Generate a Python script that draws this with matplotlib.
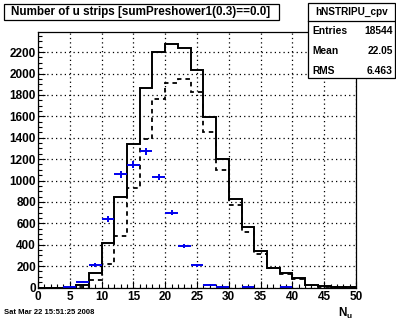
import numpy as np
import matplotlib
matplotlib.use("Agg")
import matplotlib.pyplot as plt
from matplotlib.patches import Rectangle
from matplotlib.ticker import MultipleLocator

plt.rcParams['font.family'] = ['Liberation Sans', 'DejaVu Sans']
plt.rcParams['font.weight'] = 'bold'

# number of u strips, 2-strip bins from 0 to 50
edges = np.arange(0, 52, 2)
n_all = [0, 0, 0, 25, 140, 420, 842, 1343, 1866, 2203, 2279, 2235, 2035,
         1596, 1202, 826, 563, 341, 185, 135, 85, 28, 12, 4, 4]
n_cut = [0, 0, 0, 5, 68, 215, 486, 928, 1390, 1762, 1915, 1953, 1827,
         1458, 1101, 773, 519, 316, 180, 123, 77, 23, 8, 3, 3]
n_cpv = [0, 0, 3, 55, 210, 640, 1060, 1148, 1272, 1033, 700, 388, 206,
         24, 6, 0, 3, 0, 0, 2, 0, 0, 0, 0, 0]

hist_name = "hNSTRIPU_cpv"
stats = [("Entries", "18544"), ("Mean", "22.05"), ("RMS", "6.463")]
title = "Number of u strips [sumPreshower1(0.3)==0.0]"
stamp = "Sat Mar 22 15:51:25 2008"

W, H = 396, 322
fig = plt.figure(figsize=(W / 100, H / 100), dpi=100)
ax = fig.add_axes([38 / W, 1 - 287.5 / H, 318 / W, 255.5 / H])

ax.stairs(n_all, edges, color='black', lw=1.4)
ax.stairs(n_cut, edges, color='black', lw=1.3, linestyle=(0, (2.5, 2.2)))

centers = 0.5 * (edges[1:] + edges[:-1])
cpv = np.array(n_cpv, dtype=float)
keep = cpv > 0
ax.errorbar(centers[keep], cpv[keep], xerr=1.0, yerr=np.sqrt(cpv[keep]),
            fmt='none', ecolor='#0000ee', elinewidth=1.4, capsize=0)

ax.set_xlim(0, 50)
ax.set_ylim(0, 2388)
ax.xaxis.set_major_locator(MultipleLocator(5))
ax.xaxis.set_minor_locator(MultipleLocator(1))
ax.yaxis.set_major_locator(MultipleLocator(200))
ax.yaxis.set_minor_locator(MultipleLocator(50))
ax.grid(True, which='major', color='black', linestyle=(0, (1, 2.5)), lw=0.9)
ax.set_axisbelow(True)
ax.tick_params(which='both', direction='in', top=False, right=False,
               labelsize=8.5, width=0.8)
ax.tick_params(axis='y', which='major', length=5, pad=1.5)
ax.tick_params(axis='y', which='minor', length=3)
ax.tick_params(axis='x', which='major', length=5, pad=2.5)
ax.tick_params(axis='x', which='minor', length=3)
for lab in ax.get_xticklabels() + ax.get_yticklabels():
    lab.set_fontweight('bold')
for sp in ax.spines.values():
    sp.set_linewidth(0.9)

fig.text(346 / W, 1 - 313 / H, r"N$_{\mathregular{u}}$", fontsize=8.5,
         fontweight='bold', ha='center', va='center')
fig.text(4 / W, 1 - 313 / H, stamp, fontsize=5.5, fontweight='bold',
         ha='left', va='center')

# title box
fig.add_artist(Rectangle((3.5 / W, 1 - 19.5 / H), 275.5 / W, 15.5 / H,
                         transform=fig.transFigure, fill=True, fc='white',
                         ec='black', lw=0.9))
fig.text(141 / W, 1 - 11.5 / H, title, fontsize=8.4, fontweight='bold',
         ha='center', va='center')

# stats box
fig.add_artist(Rectangle((308 / W, 1 - 78 / H), 87 / W, 75 / H,
                         transform=fig.transFigure, fill=True, fc='white',
                         ec='black', lw=0.9, zorder=5))
fig.add_artist(plt.Line2D([308 / W, 395 / W], [1 - 21 / H, 1 - 21 / H],
                          transform=fig.transFigure, color='black', lw=0.9,
                          zorder=6))
fig.text(351.5 / W, 1 - 12 / H, hist_name, fontsize=7.2, fontweight='bold',
         ha='center', va='center', zorder=7)
for i, (k, v) in enumerate(stats):
    y = 1 - (31.5 + 19.5 * i) / H
    fig.text(312 / W, y, k, fontsize=7.4, fontweight='bold', ha='left',
             va='center', zorder=7)
    fig.text(392.5 / W, y, v, fontsize=7.4, fontweight='bold', ha='right',
             va='center', zorder=7)

fig.savefig("out.png", dpi=100)
